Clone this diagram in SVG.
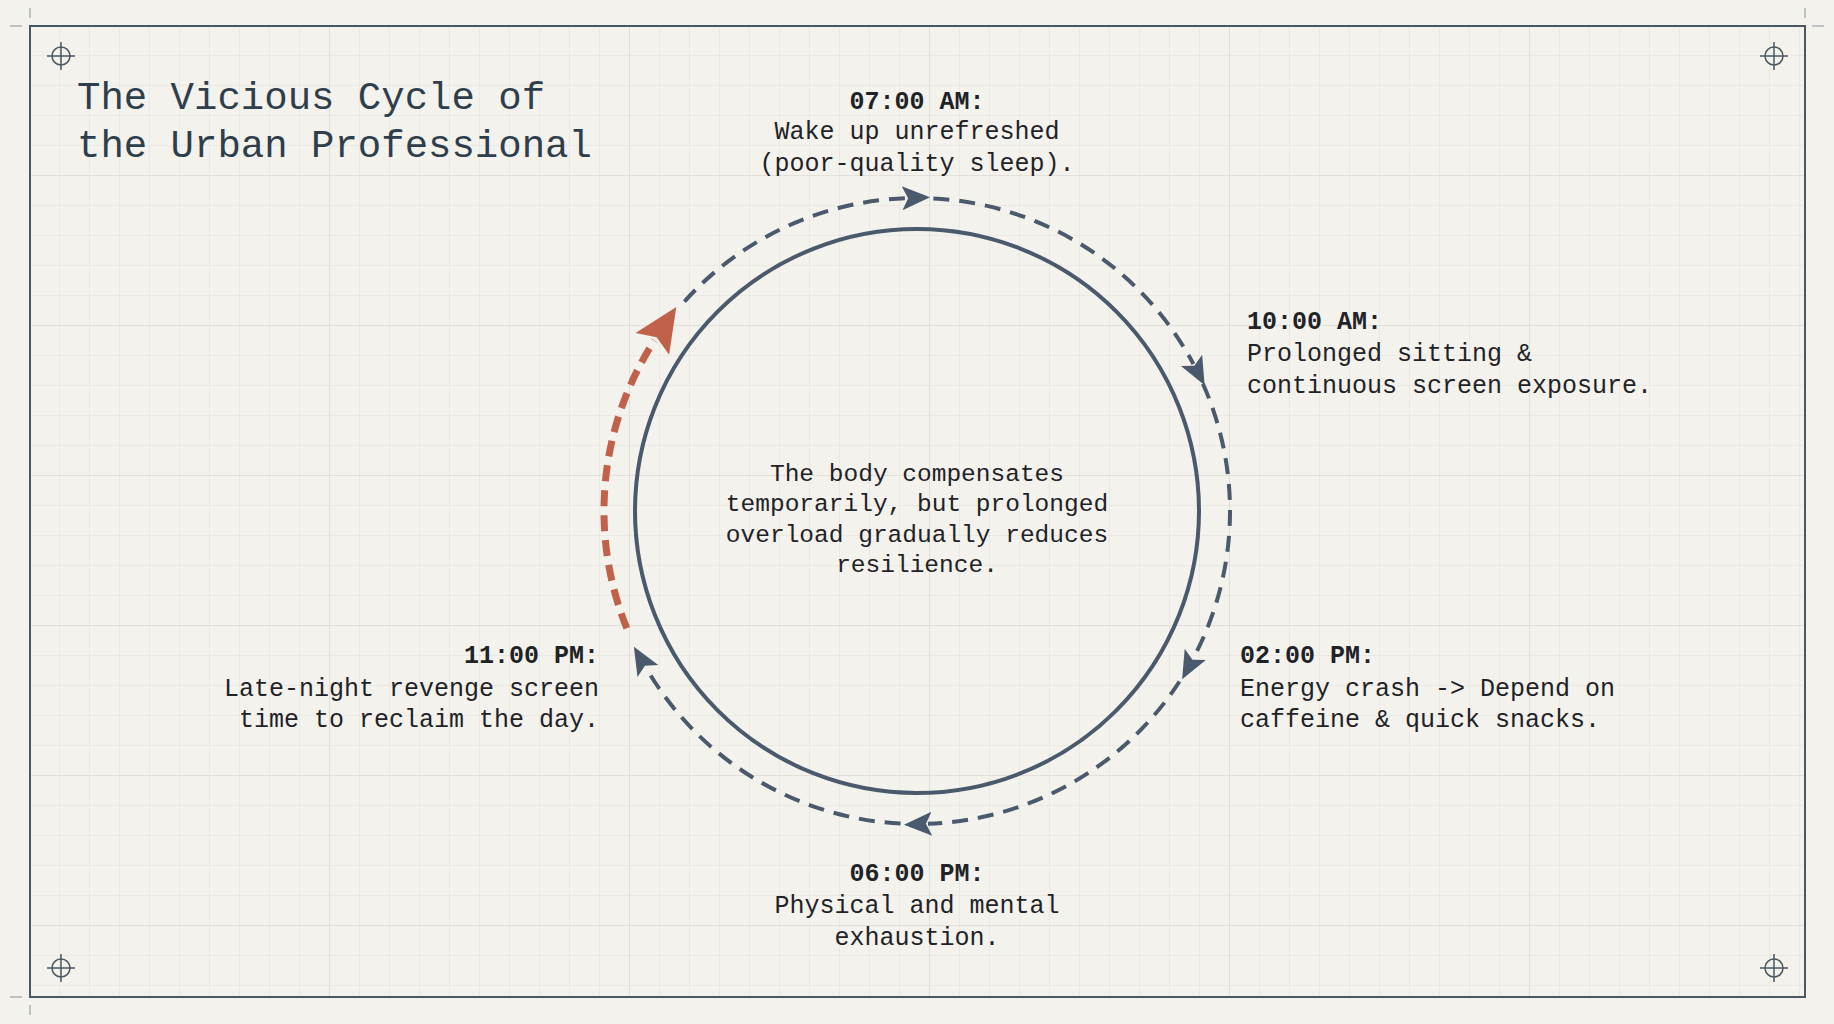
<svg xmlns="http://www.w3.org/2000/svg" width="1834" height="1024" viewBox="0 0 1834 1024">
<defs>
<pattern id="g" x="30" y="26" width="30" height="30" patternUnits="userSpaceOnUse"><path d="M30 0V30M0 30H30" fill="none" stroke="#e2e0da" stroke-width="1"/></pattern>
<pattern id="G" x="30" y="26" width="300" height="150" patternUnits="userSpaceOnUse"><path d="M300 0V150M0 150H300" fill="none" stroke="#d9d7d0" stroke-width="1.2"/></pattern>
<marker id="ab" markerUnits="userSpaceOnUse" markerWidth="40" markerHeight="40" refX="4" refY="14" orient="auto" viewBox="0 0 40 28"><path d="M0 2L28 14L0 26L6 14Z" fill="#4a5a6c"/></marker>
<marker id="ar" markerUnits="userSpaceOnUse" markerWidth="50" markerHeight="50" refX="4" refY="20" orient="auto" viewBox="0 0 50 40"><path d="M0 0L44 20L0 40L8 20Z" fill="#c0624a"/></marker>
</defs>
<style>
.t{font-family:"Liberation Mono","DejaVu Sans Mono",monospace;fill:#1f2328;font-size:25px}
.b{font-weight:bold}
.d{fill:none;stroke:#4a5a6c;stroke-width:4;stroke-dasharray:16 10}
.x{fill:none;stroke:#4a5866;stroke-width:1.5}
</style>
<rect width="1834" height="1024" fill="#f4f2ec"/>
<rect x="30" y="26" width="1775" height="971" fill="url(#g)"/>
<rect x="30" y="26" width="1775" height="971" fill="url(#G)"/>
<rect x="30" y="26" width="1775" height="971" fill="none" stroke="#4a5866" stroke-width="2"/>
<path d="M30 8V18M10 26H22M1805 8V18M1812 26H1824M30 1005V1015M10 997H22" stroke="#8a939c" stroke-width="1"/>
<g id="crosshairs">
<circle cx="61" cy="56" r="9" class="x"/><path d="M47 56H75M61 42V70" class="x"/>
<circle cx="1774" cy="56" r="9" class="x"/><path d="M1760 56H1788M1774 42V70" class="x"/>
<circle cx="61" cy="968" r="9" class="x"/><path d="M47 968H75M61 954V982" class="x"/>
<circle cx="1774" cy="968" r="9" class="x"/><path d="M1760 968H1788M1774 954V982" class="x"/>
</g>
<g id="title"><text class="t" style="font-size:39px;fill:#2f3e4c" x="77" y="109">The Vicious Cycle of</text><text class="t" style="font-size:39px;fill:#2f3e4c" x="77" y="157">the Urban Professional</text></g>
<g id="center"><circle cx="917" cy="511" r="282" fill="none" stroke="#4a5a6c" stroke-width="4"/>
<text class="t" text-anchor="middle" font-size="24.5" style="font-size:24.5px"><tspan x="917" y="481">The body compensates</tspan><tspan x="917" y="511">temporarily, but prolonged</tspan><tspan x="917" y="542">overload gradually reduces</tspan><tspan x="917" y="572">resilience.</tspan></text></g>
<g id="connectors">
<path class="d" d="M684.4 301.6A313 313 0 0 1 906.1 198.2" marker-end="url(#ab)"/>
<path class="d" d="M933.4 198.4A313 313 0 0 1 1193.4 364" marker-end="url(#ab)"/>
<path class="d" d="M1202.9 383.7A313 313 0 0 1 1193.4 658" marker-end="url(#ab)"/>
<path class="d" d="M1179.5 681.5A313 313 0 0 1 927.9 823.8" marker-end="url(#ab)"/>
<path class="d" d="M900.6 823.6A313 313 0 0 1 645.9 667.5" marker-end="url(#ab)"/>
<path d="M626.8 628.3A313 313 0 0 1 654.5 340.5" fill="none" stroke="#c0624a" stroke-width="7" stroke-dasharray="16 9" marker-end="url(#ar)"/>
</g>
<g id="n0700"><text class="t" text-anchor="middle"><tspan class="b" x="917" y="109">07:00 AM:</tspan><tspan x="917" y="139">Wake up unrefreshed</tspan><tspan x="917" y="171">(poor-quality sleep).</tspan></text></g>
<g id="n1000"><text class="t"><tspan class="b" x="1247" y="329">10:00 AM:</tspan><tspan x="1247" y="361">Prolonged sitting &amp;</tspan><tspan x="1247" y="393">continuous screen exposure.</tspan></text></g>
<g id="n0200"><text class="t"><tspan class="b" x="1240" y="663">02:00 PM:</tspan><tspan x="1240" y="696">Energy crash -&gt; Depend on</tspan><tspan x="1240" y="727">caffeine &amp; quick snacks.</tspan></text></g>
<g id="n0600"><text class="t" text-anchor="middle"><tspan class="b" x="917" y="881">06:00 PM:</tspan><tspan x="917" y="913">Physical and mental</tspan><tspan x="917" y="945">exhaustion.</tspan></text></g>
<g id="n1100"><text class="t" text-anchor="end"><tspan class="b" x="599" y="663">11:00 PM:</tspan><tspan x="599" y="696">Late-night revenge screen</tspan><tspan x="599" y="727">time to reclaim the day.</tspan></text></g>
</svg>
